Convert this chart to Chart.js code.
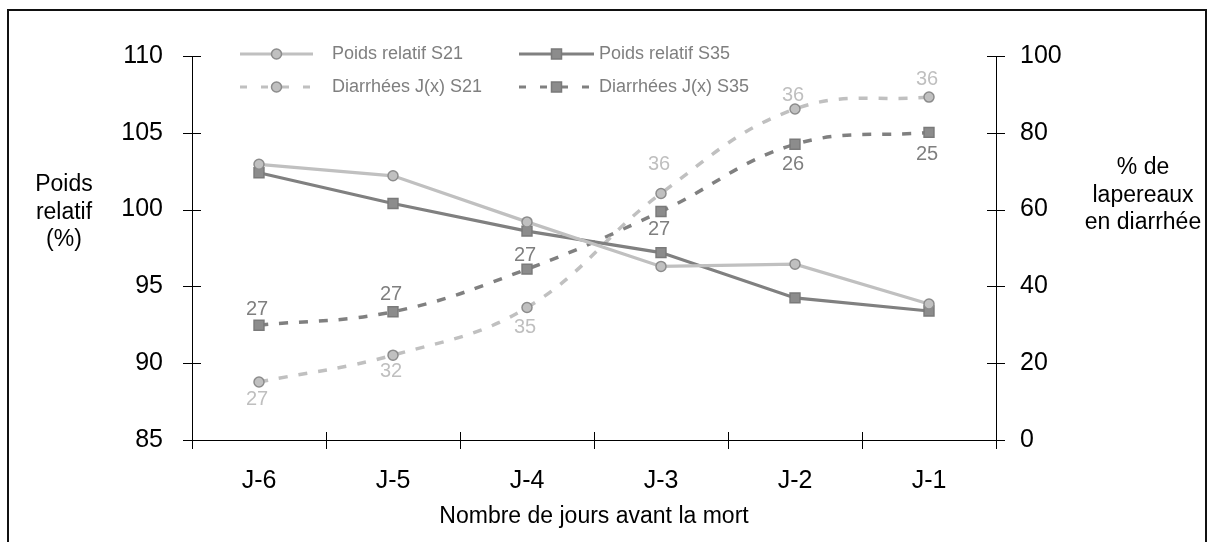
<!DOCTYPE html>
<html lang="fr">
<head>
<meta charset="utf-8">
<title>Poids relatif et diarrhées avant la mort</title>
<script src="https://cdn.jsdelivr.net/npm/chart.js@4.4.1/dist/chart.umd.min.js"></script>
<style>
  html, body { margin: 0; padding: 0; background: #fff; }
  canvas { display: block; }
</style>
</head>
<body>
<canvas id="graphique" width="1214" height="542"></canvas>
<script>
// Jours avant la mort
const jours = ["J-6", "J-5", "J-4", "J-3", "J-2", "J-1"];

// Poids relatif (%)
const poidsS21 = [102.95, 102.2, 99.2, 96.3, 96.45, 93.85];
const poidsS35 = [102.4, 100.4, 98.6, 97.2, 94.25, 93.4];

// % de lapereaux en diarrhée
const diarrheesS21 = [15.1, 22.1, 34.5, 64.2, 86.2, 89.3];
const diarrheesS35 = [29.9, 33.4, 44.5, 59.5, 77.0, 80.1];

// effectifs affichés au-dessus / au-dessous des points
const effectifsS21 = [27, 32, 35, 36, 36, 36];
const effectifsS35 = [27, 27, 27, 27, 26, 25];

const ticksGauche = [85, 90, 95, 100, 105, 110];
const ticksDroite = [0, 20, 40, 60, 80, 100];

const POLICE = '"Liberation Sans", Arial, sans-serif';
const GRIS_CLAIR = "#c0c0c0";
const GRIS_FONCE = "#808080";

Chart.defaults.font.family = POLICE;

// fond blanc + cadre autour du graphique
const cadre = {
    id: "cadre",
    beforeDraw(chart) {
        const ctx = chart.ctx;
        ctx.save();
        ctx.fillStyle = "#fff";
        ctx.fillRect(0, 0, chart.width, chart.height);
        ctx.strokeStyle = "#111";
        ctx.lineWidth = 2;
        ctx.strokeRect(8, 10, 1198, 600);
        ctx.restore();
    }
};

// graduations qui traversent les axes
const traitsAxes = {
    id: "traitsAxes",
    afterDraw(chart) {
        const { ctx, scales } = chart;
        const x = scales.x, y = scales.y, y1 = scales.y1;
        ctx.save();
        ctx.strokeStyle = "#000";
        ctx.lineWidth = 1;
        ctx.beginPath();
        y.ticks.forEach((t, i) => {
            const py = Math.round(y.getPixelForTick(i)) + 0.5;
            ctx.moveTo(y.right - 9, py);
            ctx.lineTo(y.right + 9, py);
        });
        y1.ticks.forEach((t, i) => {
            const py = Math.round(y1.getPixelForTick(i)) + 0.5;
            ctx.moveTo(y1.left - 9, py);
            ctx.lineTo(y1.left + 9, py);
        });
        const pas = (x.right - x.left) / x.ticks.length;
        for (let i = 0; i <= x.ticks.length; i++) {
            const px = Math.round(x.left + i * pas) + 0.5;
            ctx.moveTo(px, x.top - 8);
            ctx.lineTo(px, x.top + 9);
        }
        ctx.stroke();
        ctx.restore();
    }
};

// effectifs écrits près des points de diarrhée
const etiquettes = {
    id: "etiquettes",
    afterDatasetsDraw(chart) {
        const ctx = chart.ctx;
        chart.data.datasets.forEach((ds, i) => {
            if (!ds.effectifs) return;
            const meta = chart.getDatasetMeta(i);
            ctx.save();
            ctx.font = "20px " + POLICE;
            ctx.fillStyle = ds.couleurEtiquette;
            ctx.textAlign = "center";
            ctx.textBaseline = "middle";
            meta.data.forEach((pt, j) => {
                ctx.fillText(String(ds.effectifs[j]), pt.x - 2, pt.y + ds.decalages[j] + 1);
            });
            ctx.restore();
        });
    }
};

function symbole(ctx, forme, x, y, fond, bord) {
    ctx.save();
    ctx.setLineDash([]);
    ctx.fillStyle = fond;
    ctx.strokeStyle = bord;
    ctx.lineWidth = 1.5;
    ctx.beginPath();
    if (forme === "circle") ctx.arc(x, y, 5, 0, Math.PI * 2);
    else ctx.rect(x - 5, y - 5, 10, 10);
    ctx.fill();
    ctx.stroke();
    ctx.restore();
}

// légende sur deux lignes, dans la zone du graphique
const legende = {
    id: "legende",
    afterDraw(chart) {
        const ctx = chart.ctx;
        const items = [
            { x0: 240, x1: 313, tx: 332, y: 54, ds: 0 },
            { x0: 519, x1: 594, tx: 599, y: 54, ds: 1 },
            { x0: 240, x1: 313, tx: 332, y: 87, ds: 2 },
            { x0: 519, x1: 594, tx: 599, y: 87, ds: 3 }
        ];
        items.forEach(it => {
            const ds = chart.data.datasets[it.ds];
            ctx.save();
            ctx.strokeStyle = ds.borderColor;
            ctx.lineWidth = 3;
            ctx.setLineDash(ds.borderDash ? [7, 14] : []);
            ctx.beginPath();
            ctx.moveTo(it.x0, it.y);
            ctx.lineTo(it.x1, it.y);
            ctx.stroke();
            ctx.restore();
            symbole(ctx, ds.pointStyle, (it.x0 + it.x1) / 2, it.y, ds.pointBackgroundColor, ds.pointBorderColor);
            ctx.save();
            ctx.font = "18px " + POLICE;
            ctx.fillStyle = "#7f7f7f";
            ctx.textAlign = "left";
            ctx.textBaseline = "middle";
            ctx.fillText(ds.label, it.tx, it.y);
            ctx.restore();
        });
    }
};

// titres des axes verticaux, écrits à l'horizontale
const titresAxes = {
    id: "titresAxes",
    afterDraw(chart) {
        const ctx = chart.ctx;
        ctx.save();
        ctx.font = "23px " + POLICE;
        ctx.fillStyle = "#000";
        ctx.textAlign = "center";
        ctx.textBaseline = "middle";
        ["Poids", "relatif", "(%)"].forEach((t, i) => ctx.fillText(t, 64, 185 + i * 27.5));
        ["% de", "lapereaux", "en diarrhée"].forEach((t, i) => ctx.fillText(t, 1143, 168 + i * 27.5));
        ctx.restore();
    }
};

const ctx = document.getElementById("graphique").getContext("2d");

new Chart(ctx, {
    type: "line",
    data: {
        labels: jours,
        datasets: [
            {
                label: "Poids relatif S21",
                data: poidsS21,
                yAxisID: "y",
                borderColor: GRIS_CLAIR,
                borderWidth: 3.2,
                tension: 0,
                pointStyle: "circle",
                pointRadius: 5,
                pointBackgroundColor: GRIS_CLAIR,
                pointBorderColor: "#8c8c8c",
                pointBorderWidth: 1.5
            },
            {
                label: "Poids relatif S35",
                data: poidsS35,
                yAxisID: "y",
                borderColor: GRIS_FONCE,
                borderWidth: 3.2,
                tension: 0,
                pointStyle: "rect",
                pointRadius: 7,
                pointBackgroundColor: "#8c8c8c",
                pointBorderColor: "#7a7a7a",
                pointBorderWidth: 1.5
            },
            {
                label: "Diarrhées J(x) S21",
                data: diarrheesS21,
                yAxisID: "y1",
                borderColor: GRIS_CLAIR,
                borderWidth: 3.5,
                borderDash: [9, 11],
                tension: 0.4,
                pointStyle: "circle",
                pointRadius: 5,
                pointBackgroundColor: GRIS_CLAIR,
                pointBorderColor: "#8c8c8c",
                pointBorderWidth: 1.5,
                effectifs: effectifsS21,
                couleurEtiquette: "#bfbfbf",
                decalages: [16, 15, 19, -30, -15, -19]
            },
            {
                label: "Diarrhées J(x) S35",
                data: diarrheesS35,
                yAxisID: "y1",
                borderColor: GRIS_FONCE,
                borderWidth: 3.5,
                borderDash: [9, 11],
                tension: 0.4,
                pointStyle: "rect",
                pointRadius: 7,
                pointBackgroundColor: "#8c8c8c",
                pointBorderColor: "#7a7a7a",
                pointBorderWidth: 1.5,
                effectifs: effectifsS35,
                couleurEtiquette: "#7f7f7f",
                decalages: [-17, -18, -15, 17, 19, 21]
            }
        ]
    },
    options: {
        responsive: false,
        animation: false,
        layout: { padding: { top: 56, left: 0, right: 0, bottom: 0 } },
        plugins: {
            legend: { display: false },
            tooltip: { enabled: false }
        },
        scales: {
            x: {
                offset: true,
                grid: { display: true, drawOnChartArea: false, drawTicks: false },
                border: { display: true, color: "#000", width: 1 },
                ticks: { color: "#000", font: { size: 25 }, padding: 26 },
                title: {
                    display: true,
                    text: "Nombre de jours avant la mort",
                    color: "#000",
                    font: { size: 23 },
                    padding: { top: 0, bottom: 12 }
                },
                afterFit: s => { s.height = 102; }
            },
            y: {
                position: "left",
                min: ticksGauche[0],
                max: ticksGauche[ticksGauche.length - 1],
                afterBuildTicks: s => { s.ticks = ticksGauche.map(v => ({ value: v })); },
                grid: { display: true, drawOnChartArea: false, drawTicks: false },
                border: { display: true, color: "#000", width: 1 },
                ticks: { color: "#000", font: { size: 25 }, padding: 29 },
                afterFit: s => { s.width = 192; }
            },
            y1: {
                position: "right",
                min: ticksDroite[0],
                max: ticksDroite[ticksDroite.length - 1],
                afterBuildTicks: s => { s.ticks = ticksDroite.map(v => ({ value: v })); },
                grid: { display: true, drawOnChartArea: false, drawTicks: false },
                border: { display: true, color: "#000", width: 1 },
                ticks: { color: "#000", font: { size: 25 }, padding: 24 },
                afterFit: s => { s.width = 218; }
            }
        }
    },
    plugins: [cadre, traitsAxes, etiquettes, legende, titresAxes]
});
</script>
</body>
</html>
